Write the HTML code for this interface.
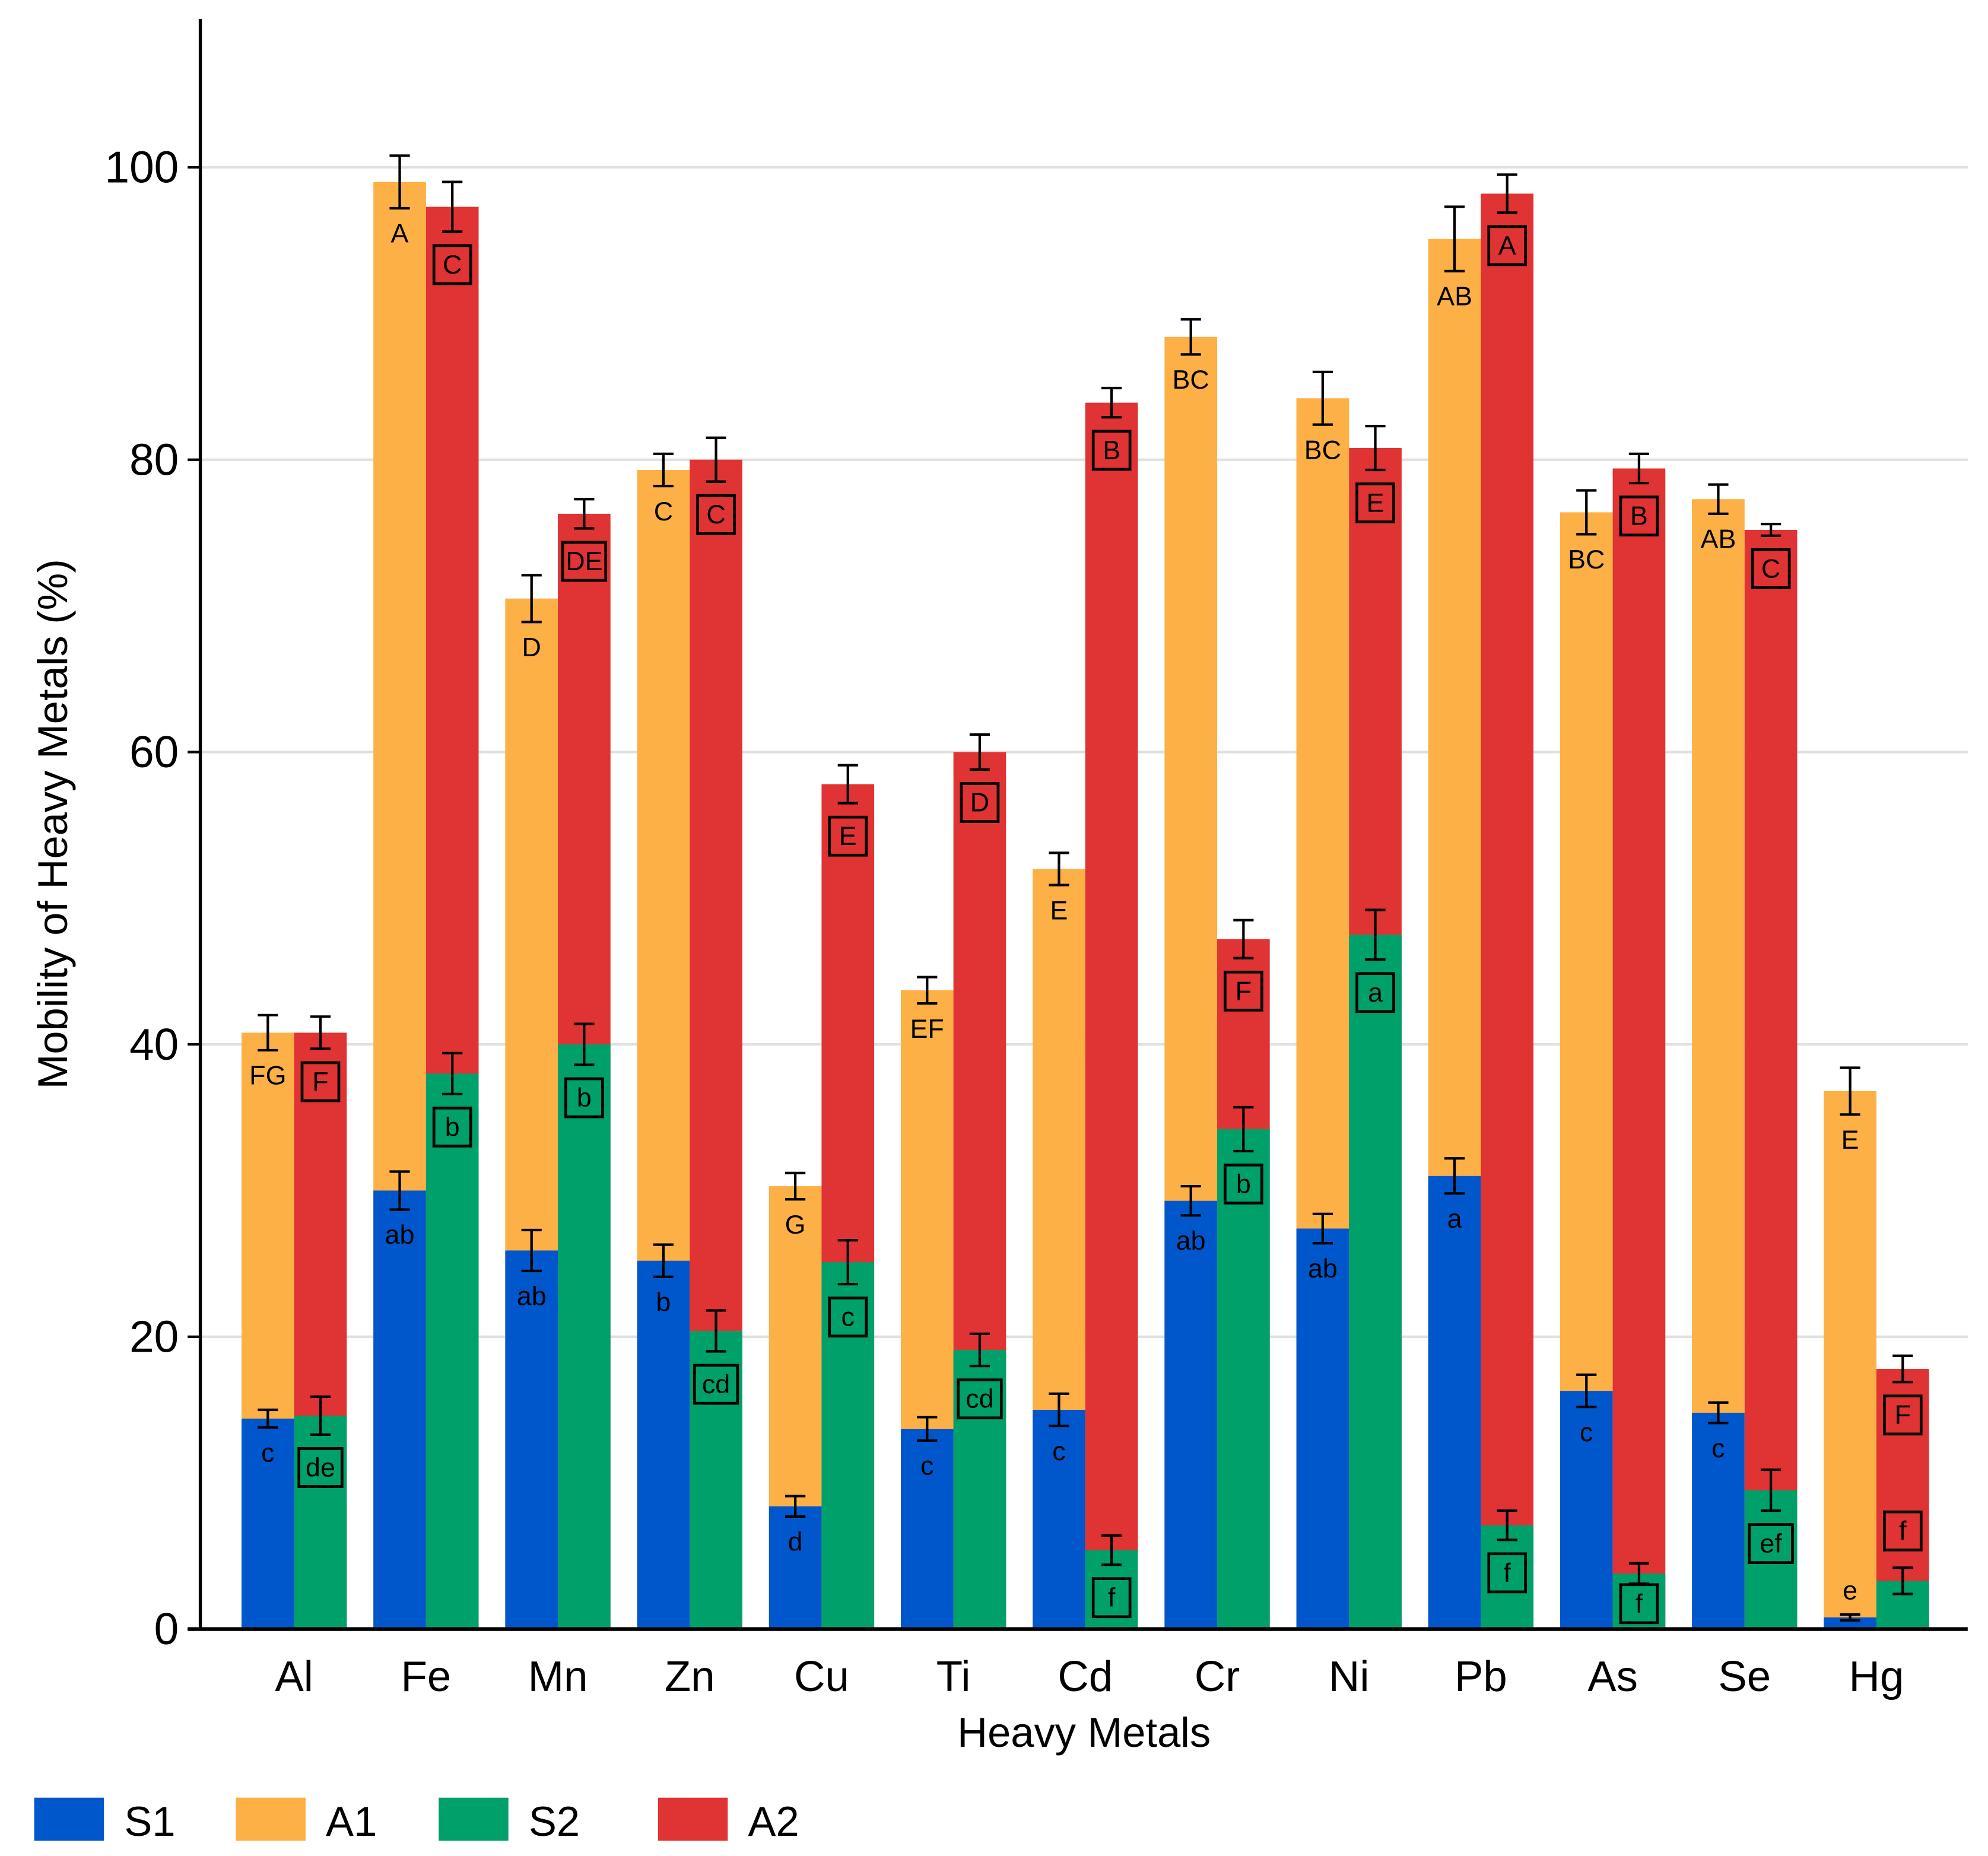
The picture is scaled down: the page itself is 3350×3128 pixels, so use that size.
<!DOCTYPE html>
<html><head><meta charset="utf-8"><style>
html,body{margin:0;padding:0;background:#fff;}
svg{display:block;}
text{font-family:"Liberation Sans",sans-serif;}
</style></head>
<body>
<svg id="chart" width="3350" height="3128" viewBox="0 0 1568 1464" preserveAspectRatio="none" xmlns="http://www.w3.org/2000/svg"></svg>
<script>
const categories = ["Al","Fe","Mn","Zn","Cu","Ti","Cd","Cr","Ni","Pb","As","Se","Hg"];
const s1Values = [14.4,30.0,25.9,25.2,8.4,13.7,15.0,29.3,27.4,31.0,16.3,14.8,0.8];
const s1Errors = [0.6,1.3,1.4,1.1,0.7,0.8,1.1,1.0,1.0,1.2,1.1,0.7,0.2];
const s1Letters = ["c","ab","ab","b","d","c","c","ab","ab","a","c","c","e"];
const a1Values = [40.8,99.0,70.5,79.3,30.3,43.7,52.0,88.4,84.2,95.1,76.4,77.3,36.8];
const a1Errors = [1.2,1.8,1.6,1.1,0.9,0.9,1.1,1.2,1.8,2.2,1.5,1.0,1.6];
const a1Letters = ["FG","A","D","C","G","EF","E","BC","BC","AB","BC","AB","E"];
const s2Values = [14.6,38.0,40.0,20.4,25.1,19.1,5.4,34.2,47.5,7.1,3.8,9.5,3.3];
const s2Errors = [1.3,1.4,1.4,1.4,1.5,1.1,1.0,1.5,1.7,1.0,0.7,1.4,0.9];
const s2Letters = ["de","b","b","cd","c","cd","f","b","a","f","f","ef","f"];
const a2Values = [40.8,97.3,76.3,80.0,57.8,60.0,83.9,47.2,80.8,98.2,79.4,75.2,17.8];
const a2Errors = [1.1,1.7,1.0,1.5,1.3,1.2,1.0,1.3,1.5,1.3,1.0,0.4,0.9];
const a2Letters = ["F","C","DE","C","E","D","B","F","E","A","B","C","F"];
const yTicks = [0,20,40,60,80,100];

const NS="http://www.w3.org/2000/svg";
const svg=document.getElementById('chart');
const X0=158, X1=1552, Y0=1285, PXU=11.53;
const y=v=>Y0-v*PXU;
const xc=i=>232+i*104;
const BW=41.5;
function el(tag,attrs,parent){const e=document.createElementNS(NS,tag);for(const k in attrs)e.setAttribute(k,attrs[k]);(parent||svg).appendChild(e);return e;}

yTicks.forEach(t=>{
  if(t>0){const g=el('line',{x1:X0,x2:X1,y1:y(t),y2:y(t),stroke:'#e0e0e0','stroke-width':2});
  
  }
  const tk=el('line',{x1:X0-10,x2:X0,y1:y(t),y2:y(t),stroke:'#000','stroke-width':2});
  
  
  const tl=el('text',{x:X0-17,y:y(t)+12,'text-anchor':'end','font-size':35});
  tl.textContent=t;
  
  
});

const colors={s1:'#0057cc',a1:'#fdb045',s2:'#00a06a',a2:'#e03333'};
function bar(x,v,c,name){const r=el('rect',{x:x,y:y(v),width:BW,height:v*PXU,fill:c});
  
  }
function err(cx,v,e,name){const g=el('g',{stroke:'#000','stroke-width':2});
  
  
  el('line',{x1:cx,x2:cx,y1:y(v+e),y2:y(v-e)},g);
  el('line',{x1:cx-8,x2:cx+8,y1:y(v+e),y2:y(v+e)},g);
  el('line',{x1:cx-8,x2:cx+8,y1:y(v-e),y2:y(v-e)},g);}
function label(cx,v,e,txt,boxed,above,name){
  let cy = above ? y(v+e)-(boxed?29:19) : y(v-e)+(boxed?26:20);
  if(!above) cy=Math.min(cy,1265);
  const g=el('g',{});
  
  
  if(boxed){const w=txt.length>1?34:29;el('rect',{x:cx-w/2,y:cy-15,width:w,height:30,fill:'none',stroke:'#000','stroke-width':2.2},g);}
  const t=el('text',{x:cx,y:cy+7,'text-anchor':'middle','font-size':21},g);t.textContent=txt;}

categories.forEach((c,i)=>{
  const lx=xc(i)-BW, rx=xc(i);
  bar(lx,a1Values[i],colors.a1,'bar-a1-'+c);
  bar(lx,s1Values[i],colors.s1,'bar-s1-'+c);
  bar(rx,a2Values[i],colors.a2,'bar-a2-'+c);
  bar(rx,s2Values[i],colors.s2,'bar-s2-'+c);
});
categories.forEach((c,i)=>{
  const lc=xc(i)-BW/2, rc=xc(i)+BW/2;
  err(lc,a1Values[i],a1Errors[i],'error-a1-'+c);
  err(lc,s1Values[i],s1Errors[i],'error-s1-'+c);
  err(rc,a2Values[i],a2Errors[i],'error-a2-'+c);
  err(rc,s2Values[i],s2Errors[i],'error-s2-'+c);
  const smallS1 = s1Values[i]<3, smallS2 = s2Values[i]<3.5;
  label(lc,a1Values[i],a1Errors[i],a1Letters[i],false,false,'letter-a1-'+c);
  label(lc,s1Values[i],s1Errors[i],s1Letters[i],false,smallS1,'letter-s1-'+c);
  label(rc,a2Values[i],a2Errors[i],a2Letters[i],true,false,'letter-a2-'+c);
  label(rc,s2Values[i],s2Errors[i],s2Letters[i],true,smallS2,'letter-s2-'+c);
  const xl=el('text',{x:xc(i),y:1334,'text-anchor':'middle','font-size':34});
  xl.textContent=c;
  
  
});

const ya=el('line',{x1:X0,x2:X0,y1:15,y2:Y0+1,stroke:'#000','stroke-width':2.5});


const xa=el('line',{x1:X0-10,x2:X1,y1:Y0,y2:Y0,stroke:'#000','stroke-width':3});



const xt=el('text',{x:855,y:1378,'text-anchor':'middle','font-size':33});
xt.textContent='Heavy Metals';


const yt=el('text',{x:0,y:0,'text-anchor':'middle','font-size':33,transform:'translate(53,650) rotate(-90)'});
yt.textContent='Mobility of Heavy Metals (%)';



const legendNames=["S1","A1","S2","A2"];
const legendColors=[colors.s1,colors.a1,colors.s2,colors.a2];
const legendX=[27,186,346,519];
legendNames.forEach((n,k)=>{
  const g=el('g',{});
  
  
  el('rect',{x:legendX[k],y:1418,width:55,height:34,fill:legendColors[k]},g);
  const t=el('text',{x:legendX[k]+71,y:1448,'font-size':33},g);t.textContent=n;
});
</script>
</body></html>
